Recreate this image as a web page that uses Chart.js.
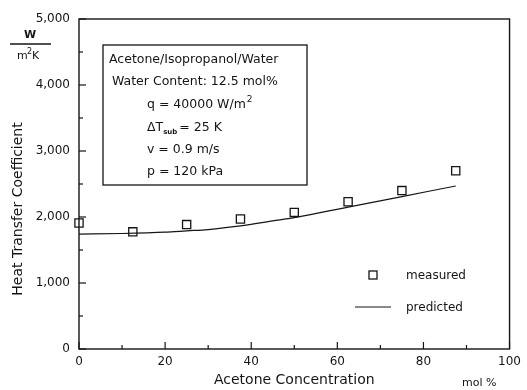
<!DOCTYPE html>
<html>
<head>
<meta charset="utf-8">
<script src="https://cdn.jsdelivr.net/npm/chart.js@4/dist/chart.umd.min.js"></script>
<style>
  body { margin: 0; background: #fff; }
</style>
</head>
<body>
<canvas id="htcChart" width="527" height="390"></canvas>
<script>
// values
const measuredX = [0, 12.5, 25, 37.5, 50, 62.5, 75, 87.5];
const measuredY = [1910, 1775, 1885, 1970, 2070, 2230, 2400, 2700];
const predictedX = [0, 10, 20, 25, 30, 37.5, 45, 50, 62.5, 75, 87.5];
const predictedY = [1740, 1750, 1770, 1790, 1810, 1865, 1940, 1990, 2150, 2310, 2470];

const xTitle = 'Acetone Concentration';
const xUnit = 'mol %';
const yTitle = 'Heat Transfer Coefficient';
const infoLines = ['Acetone/Isopropanol/Water', 'Water Content: 12.5 mol%', 'q = 40000 W/m', 'ΔT', 'v = 0.9 m/s', 'p = 120 kPa'];
const legendLabels = ['measured', 'predicted'];

const FONT = '"DejaVu Sans", sans-serif';
const INK = '#151515';

function toPoints(xs, ys) {
    return xs.map((x, i) => ({x: x, y: ys[i]}));
}

function line(ctx, x1, y1, x2, y2) {
    ctx.beginPath();
    ctx.moveTo(x1, y1);
    ctx.lineTo(x2, y2);
    ctx.stroke();
}

// frame, inward ticks, text box, legend, unit labels
const decorations = {
    id: 'decorations',
    afterDraw(chart) {
        const ctx = chart.ctx;
        const ca = chart.chartArea;
        const xs = chart.scales.x, ys = chart.scales.y;
        ctx.save();
        ctx.strokeStyle = INK;
        ctx.fillStyle = INK;

        // frame
        ctx.lineWidth = 1.4;
        ctx.strokeRect(ca.left, ca.top, ca.right - ca.left, ca.bottom - ca.top);

        // ticks pointing inward
        ctx.lineWidth = 1.2;
        for (let v = 0; v <= 100; v += 10) {
            const px = xs.getPixelForValue(v);
            line(ctx, px, ca.bottom, px, ca.bottom - (v % 20 === 0 ? 7 : 4));
        }
        for (let v = 0; v <= 5000; v += 500) {
            const py = ys.getPixelForValue(v);
            line(ctx, ca.left, py, ca.left + (v % 1000 === 0 ? 7 : 4), py);
        }

        // y title
        ctx.font = '14px ' + FONT;
        ctx.textAlign = 'center';
        ctx.textBaseline = 'middle';
        ctx.save();
        ctx.translate(18, ca.top + 190);
        ctx.rotate(-Math.PI / 2);
        ctx.fillText(yTitle, 0, 0);
        ctx.restore();

        // unit W / m2K
        ctx.font = 'bold 11px ' + FONT;
        ctx.fillText('W', 30, 35);
        ctx.lineWidth = 1.3;
        line(ctx, 10, 44, 51, 44);
        ctx.font = '11px ' + FONT;
        ctx.textAlign = 'left';
        ctx.fillText('m', 17, 56);
        ctx.font = '8px ' + FONT;
        ctx.fillText('2', 27, 52);
        ctx.font = '11px ' + FONT;
        ctx.fillText('K', 32, 56);

        // mol % next to x title
        ctx.font = '11px ' + FONT;
        ctx.fillText(xUnit, 462, 383);

        // info box
        const bx = ca.left + 24, by = ca.top + 26;
        ctx.lineWidth = 1.3;
        ctx.strokeRect(bx, by, 204, 140);
        ctx.font = '12.5px ' + FONT;
        ctx.textAlign = 'left';
        ctx.fillText(infoLines[0], bx + 6, by + 15);
        ctx.fillText(infoLines[1], bx + 9, by + 37);
        ctx.fillText(infoLines[2], bx + 44, by + 60);
        const qw = ctx.measureText(infoLines[2]).width;
        ctx.fillText(infoLines[3], bx + 44, by + 83);
        const w = ctx.measureText(infoLines[3]).width;
        ctx.fillText(infoLines[4], bx + 44, by + 105);
        ctx.fillText(infoLines[5], bx + 44, by + 127);
        ctx.font = 'bold 7px ' + FONT;
        ctx.fillText('sub', bx + 44 + w, by + 87);
        const w2 = ctx.measureText('sub').width;
        ctx.font = '9px ' + FONT;
        ctx.fillText('2', bx + 45 + qw, by + 55);
        ctx.font = '12.5px ' + FONT;
        ctx.fillText('= 25 K', bx + 46 + w + w2, by + 83);

        // legend
        const m = chart.data.datasets[0];
        const p = chart.data.datasets[1];
        ctx.font = '12px ' + FONT;
        ctx.lineWidth = m.borderWidth;
        ctx.strokeStyle = m.borderColor;
        ctx.strokeRect(ca.left + 290, ca.top + 252, 8, 8);
        ctx.fillText(legendLabels[0], ca.left + 327, ca.top + 257);
        ctx.lineWidth = p.borderWidth;
        ctx.strokeStyle = p.borderColor;
        line(ctx, ca.left + 276, ca.top + 288, ca.left + 312, ca.top + 288);
        ctx.fillText(legendLabels[1], ca.left + 327, ca.top + 289);
        ctx.restore();
    }
};

new Chart(document.getElementById('htcChart').getContext('2d'), {
    type: 'scatter',
    data: {
        datasets: [{
            label: legendLabels[0],
            data: toPoints(measuredX, measuredY),
            pointStyle: 'rect',
            pointRadius: 5.8,
            pointBorderWidth: 1.3,
            borderColor: INK,
            borderWidth: 1.3,
            backgroundColor: 'rgba(255,255,255,0)',
            clip: false
        }, {
            type: 'line',
            label: legendLabels[1],
            data: toPoints(predictedX, predictedY),
            borderColor: INK,
            borderWidth: 1.2,
            pointRadius: 0,
            cubicInterpolationMode: 'monotone',
            fill: false
        }]
    },
    options: {
        responsive: false,
        animation: false,
        layout: { padding: { top: 19, right: 17, left: 0, bottom: 0 } },
        plugins: { legend: { display: false }, tooltip: { enabled: false } },
        scales: {
            x: {
                type: 'linear',
                min: 0, max: 100,
                ticks: { stepSize: 20, color: INK, padding: 6, font: { family: FONT, size: 12 } },
                grid: { display: false, drawTicks: false },
                border: { display: false },
                title: { display: true, text: xTitle, color: INK, padding: { top: 0, bottom: 1 }, font: { family: FONT, size: 14 } },
                afterFit(scale) { scale.height = 41; }
            },
            y: {
                min: 0, max: 5000,
                ticks: { stepSize: 1000, color: INK, padding: 9, font: { family: FONT, size: 12 } },
                grid: { display: false, drawTicks: false },
                border: { display: false },
                afterFit(scale) { scale.width = 79; }
            }
        }
    },
    plugins: [decorations]
});
</script>
</body>
</html>
